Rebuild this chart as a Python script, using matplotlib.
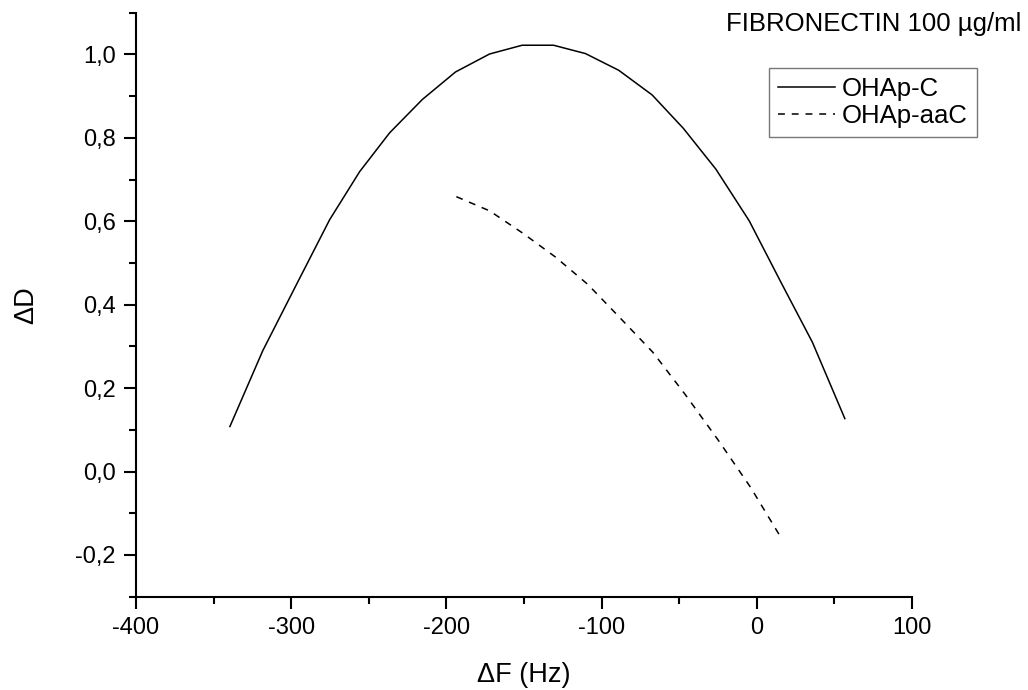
import matplotlib
matplotlib.use('Agg')
import matplotlib.pyplot as plt
from matplotlib.ticker import MultipleLocator, FuncFormatter

plt.rcParams['font.family'] = ['Liberation Sans', 'DejaVu Sans']
plt.rcParams['axes.unicode_minus'] = False

# OHAp-C (solid)
fC = [-339.5, -318.3, -296.4, -275.2, -255.9, -236.6, -215.5, -194.1, -172.2, -151.2,
      -131.0, -110.4, -89.0, -67.5, -47.4, -26.4, -4.9, 15.5, 35.8, 56.7]
dC = [0.108, 0.290, 0.450, 0.604, 0.719, 0.812, 0.892, 0.958, 1.001, 1.022,
      1.022, 1.002, 0.962, 0.903, 0.823, 0.725, 0.601, 0.454, 0.310, 0.127]

# OHAp-aaC (dashed)
fAAC = [-193.6, -172.2, -151.0, -130.0, -109.0, -88.0, -67.0, -46.0, -25.0, -4.0, 16.5]
dAAC = [0.659, 0.625, 0.572, 0.515, 0.449, 0.368, 0.286, 0.184, 0.076, -0.038, -0.164]

fig = plt.figure(figsize=(10.28, 6.9), dpi=100)
ax = fig.add_axes([0.1323, 0.1352, 0.8872 - 0.1323, 0.9816 - 0.1352])

ax.plot(fC, dC, color='black', lw=1.1, label='OHAp-C')
ax.plot(fAAC, dAAC, color='black', lw=1.1, dashes=(4.5, 4.5), label='OHAp-aaC')

ax.set_xlim(-400, 100)
ax.set_ylim(-0.3, 1.1)
ax.spines['top'].set_visible(False)
ax.spines['right'].set_visible(False)
ax.spines['left'].set_linewidth(1.5)
ax.spines['bottom'].set_linewidth(1.5)

ax.xaxis.set_major_locator(MultipleLocator(100))
ax.xaxis.set_minor_locator(MultipleLocator(50))
ax.yaxis.set_major_locator(MultipleLocator(0.2))
ax.yaxis.set_minor_locator(MultipleLocator(0.1))
ax.yaxis.set_major_formatter(FuncFormatter(lambda v, p: ('%.1f' % v).replace('.', ',')))
ax.tick_params(which='major', direction='out', length=8.5, width=1.5, labelsize=17, pad=6)
ax.tick_params(which='minor', direction='out', length=5, width=1.5)

ax.set_xlabel('\u0394F (Hz)', fontsize=19.5, labelpad=17)
ax.set_ylabel('\u0394D', fontsize=19.5, labelpad=26)

fig.text(0.994, 0.965, 'FIBRONECTIN 100 \u00b5g/ml', fontsize=18.5, ha='right', va='center')
leg = ax.legend(loc='upper left', bbox_to_anchor=(0.8157, 0.906), fontsize=18.5,
                frameon=True, fancybox=False, edgecolor='#555555', handlelength=2.2,
                borderpad=0.35, labelspacing=0.15, handletextpad=0.3, borderaxespad=0)
leg.get_frame().set_linewidth(1.0)

fig.savefig('out.png', dpi=100)
